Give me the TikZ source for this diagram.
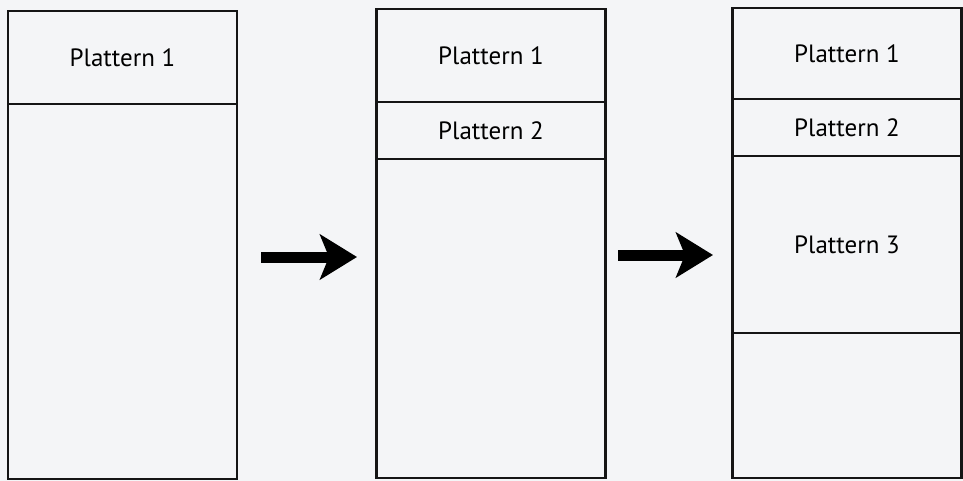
\documentclass[tikz,border=0pt]{standalone}
\usepackage{fontspec}
\setmainfont{PT Sans}
\usepackage{tikz}
\usetikzlibrary{positioning, arrows.meta}
\definecolor{pgpaper}{HTML}{F4F5F7}
\definecolor{pgline}{HTML}{151515}

\begin{document}
\begin{tikzpicture}[x=1pt, y=-1pt,
  slot/.style={
    rectangle, draw=pgline, line width=2.4pt, fill=pgpaper,
    minimum width=229pt, inner sep=0pt, outer sep=0pt,
    font=\fontsize{25}{28}\selectfont
  },
  arr/.style={-{Stealth[length=37pt, width=45pt, inset=9pt]}, line width=11pt, color=black},
]

% Paper
\fill[pgpaper] (0,0) rectangle (963,481);

% Memory 1
\node[slot, anchor=north, minimum height=93pt] (aplat1) at (122.5,11) {Plattern 1};
\node[slot, minimum height=375pt, below=0pt of aplat1] (afree) {};

% Memory 2
\node[slot, anchor=north, minimum height=93pt] (bplat1) at (491,9) {Plattern 1};
\node[slot, minimum height=57pt, below=0pt of bplat1] (bplat2) {Plattern 2};
\node[slot, minimum height=319pt, below=0pt of bplat2] (bfree) {};

% Memory 3
\node[slot, anchor=north, minimum height=91pt] (cplat1) at (847,8) {Plattern 1};
\node[slot, minimum height=57pt, below=0pt of cplat1] (cplat2) {Plattern 2};
\node[slot, minimum height=177pt, below=0pt of cplat2] (cplat3) {Plattern 3};
\node[slot, minimum height=145pt, below=0pt of cplat3] (cfree) {};

% Arrows
\coordinate (arrAs) at (261,257);
\coordinate (arrAe) at (357,257);
\coordinate (arrBs) at (618,255);
\coordinate (arrBe) at (713,255);
\draw[arr] (arrAs) -- (arrAe);
\draw[arr] (arrBs) -- (arrBe);

\end{tikzpicture}
\end{document}
